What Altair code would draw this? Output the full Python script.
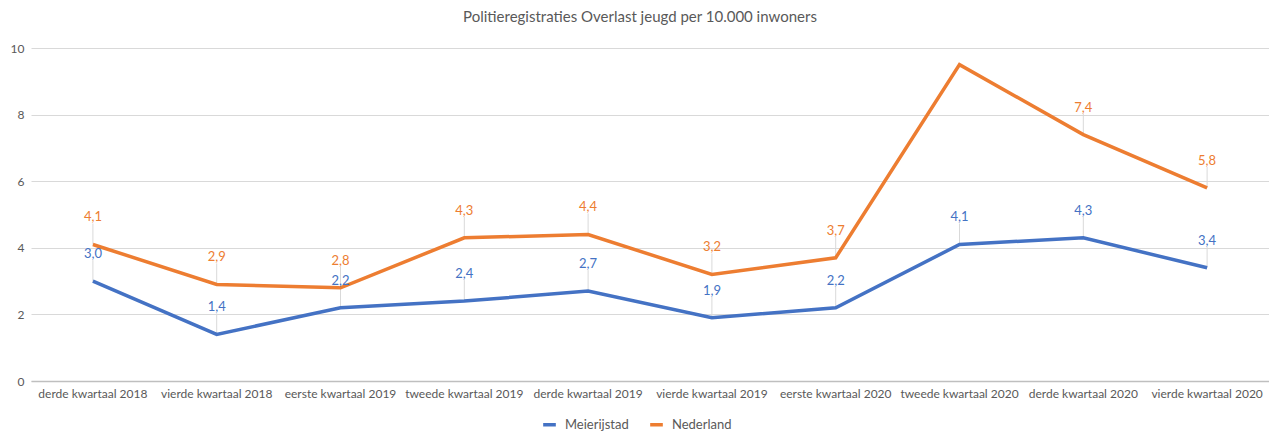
import altair as alt
import pandas as pd

quarters = [
    "derde kwartaal 2018", "vierde kwartaal 2018", "eerste kwartaal 2019",
    "tweede kwartaal 2019", "derde kwartaal 2019", "vierde kwartaal 2019",
    "eerste kwartaal 2020", "tweede kwartaal 2020", "derde kwartaal 2020",
    "vierde kwartaal 2020",
]
meierijstad = [3.0, 1.4, 2.2, 2.4, 2.7, 1.9, 2.2, 4.1, 4.3, 3.4]
nederland = [4.1, 2.9, 2.8, 4.3, 4.4, 3.2, 3.7, 9.5, 7.4, 5.8]
series = ["Meierijstad", "Nederland"]
colors = ["#4472C4", "#ED7D31"]
hidden_labels = [("Nederland", "tweede kwartaal 2020")]
y_ticks = [0, 2, 4, 6, 8, 10]
title_text = "Politieregistraties Overlast jeugd per 10.000 inwoners"

rows = []
for s, vals in zip(series, [meierijstad, nederland]):
    for q, v in zip(quarters, vals):
        rows.append({"kwartaal": q, "reeks": s, "waarde": v,
                     "toon": (s, q) not in hidden_labels})
df = pd.DataFrame(rows)

FONT = "Lato"
GREY = "#595959"

x = alt.X("kwartaal:N", sort=quarters, title=None,
          axis=alt.Axis(labelAngle=0, labelFont=FONT, labelFontSize=12,
                        labelColor=GREY, ticks=False, labelPadding=7,
                        domainColor="#bfbfbf", domainWidth=1.5))
y = alt.Y("waarde:Q", scale=alt.Scale(domain=[0, 10]), title=None,
          axis=alt.Axis(values=y_ticks, labelFont=FONT, labelFontSize=12,
                        labelColor=GREY, ticks=False, domain=False,
                        labelPadding=7, gridColor="#d9d9d9"))
color = alt.Color("reeks:N", scale=alt.Scale(domain=series, range=colors),
                  legend=alt.Legend(title=None, orient="none", legendX=510,
                                    legendY=368, direction="horizontal",
                                    symbolType="stroke", symbolStrokeWidth=3.5,
                                    symbolSize=160, labelFont=FONT,
                                    labelFontSize=13, labelColor=GREY,
                                    columnPadding=14, labelOffset=7))

base = alt.Chart(df)
labeled = base.transform_filter("datum.toon").transform_calculate(
    lbl="replace(format(datum.waarde, '.1f'), '.', ',')")

leaders = labeled.mark_rule(color="#d9d9d9", strokeWidth=1, y2Offset=-21).encode(
    x=x, y=y, y2=alt.Y2("waarde:Q"))
lines = base.mark_line(strokeWidth=3.5).encode(x=x, y=y, color=color)
texts = labeled.mark_text(dy=-27, font=FONT, fontSize=13).encode(
    x=x, y=y, text="lbl:N",
    color=alt.Color("reeks:N", scale=alt.Scale(domain=series, range=colors), legend=None))

chart = alt.layer(leaders, lines, texts).properties(
    width=1238, height=333,
    title=alt.TitleParams(title_text, font=FONT, fontSize=15, fontWeight="normal",
                          color=GREY, offset=17, anchor="middle", dx=-10),
    padding={"left": 23, "top": 40, "right": 0, "bottom": 52},
    autosize=alt.AutoSizeParams(type="none"),
).configure_view(stroke=None)

chart.save("out.html", embed_options={"renderer": "svg", "actions": False})
